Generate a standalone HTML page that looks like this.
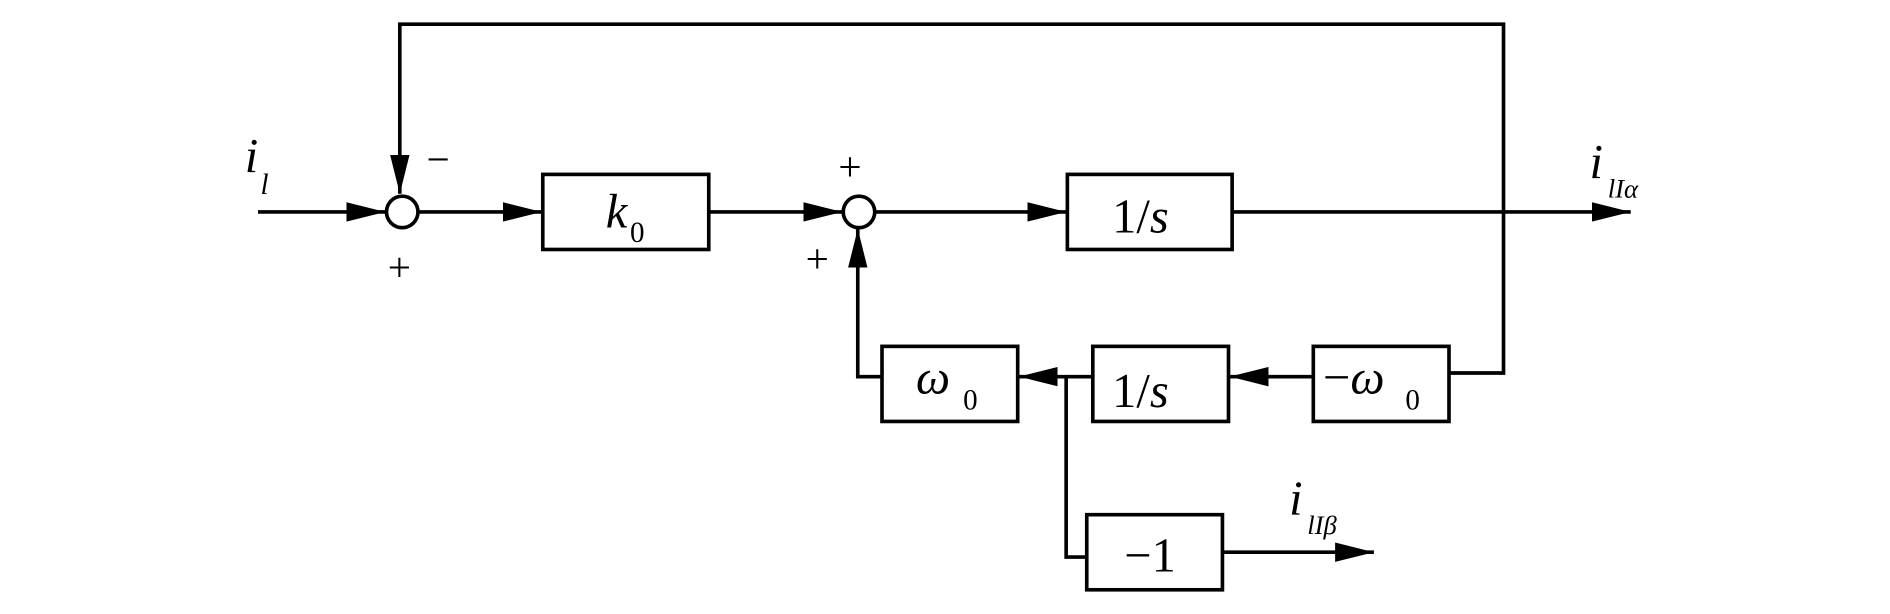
<!DOCTYPE html>
<html><head><meta charset="utf-8"><style>
html,body{margin:0;padding:0;background:#fff;width:1890px;height:614px;overflow:hidden}
svg{display:block}
text{font-family:"Liberation Serif",serif;fill:#000}
</style></head><body>
<svg width="1890" height="614" viewBox="0 0 1560 507" preserveAspectRatio="none" xmlns="http://www.w3.org/2000/svg">
<defs>
<marker id="a" markerWidth="32" markerHeight="16" refX="32" refY="8" orient="auto" markerUnits="userSpaceOnUse">
<path d="M0,0 L32,8 L0,16 z" fill="#000"/></marker>
</defs>
<g stroke="#000" stroke-width="3" fill="none">
<!-- top feedback -->
<polyline points="1196,308 1241,308 1241,20 330,20 330,160" marker-end="url(#a)"/>
<!-- main path -->
<line x1="213" y1="175" x2="318" y2="175" marker-end="url(#a)"/>
<line x1="345" y1="175" x2="447" y2="175" marker-end="url(#a)"/>
<line x1="585" y1="175" x2="695" y2="175" marker-end="url(#a)"/>
<line x1="722" y1="175" x2="880" y2="175" marker-end="url(#a)"/>
<line x1="1017" y1="175" x2="1346" y2="175" marker-end="url(#a)"/>
<circle cx="332" cy="175" r="13" stroke-width="3"/>
<circle cx="709" cy="175" r="13" stroke-width="3"/>
<rect x="448" y="144" width="137" height="62"/>
<rect x="881" y="144" width="136" height="62"/>
<!-- lower row -->
<rect x="728" y="286" width="112" height="62"/>
<rect x="902" y="286" width="112" height="62"/>
<rect x="1084" y="286" width="112" height="62"/>
<rect x="897" y="425" width="112" height="62"/>
<line x1="1084" y1="311" x2="1015" y2="311" marker-end="url(#a)"/>
<line x1="902" y1="311" x2="841" y2="311" marker-end="url(#a)"/>
<polyline points="728,311 708,311 708,189" marker-end="url(#a)"/>
<polyline points="880,311 880,460 897,460"/>
<line x1="1009" y1="456" x2="1134" y2="456" marker-end="url(#a)"/>
</g>
<g font-size="40">
<text x="500" y="188" font-style="italic">k</text><text x="520" y="200" font-size="24">0</text>
<text x="918" y="192">1/<tspan font-style="italic">s</tspan></text>
<text x="756" y="325" font-style="italic">ω</text><text x="795" y="338" font-size="24">0</text>
<text x="918" y="336">1/<tspan font-style="italic">s</tspan></text>
<text x="1092" y="325">−<tspan font-style="italic">ω</tspan></text><text x="1160" y="338" font-size="24">0</text>
<text x="928" y="472">−1</text>
<text x="202" y="142" font-style="italic">i</text><text x="215" y="160" font-size="24" font-style="italic">l</text>
<text x="1312" y="147" font-style="italic">i</text><text x="1327" y="163" font-size="22" font-style="italic">lIα</text>
<text x="1064" y="425" font-style="italic">i</text><text x="1079" y="441" font-size="22" font-style="italic">lIβ</text>
</g>
<g font-size="34" font-family="Liberation Sans">
<text x="352" y="143" font-family="Liberation Sans">−</text>
<text x="320" y="232" font-family="Liberation Sans">+</text>
<text x="692" y="149" font-family="Liberation Sans">+</text>
<text x="665" y="225" font-family="Liberation Sans">+</text>
</g>
</svg>
</body></html>
